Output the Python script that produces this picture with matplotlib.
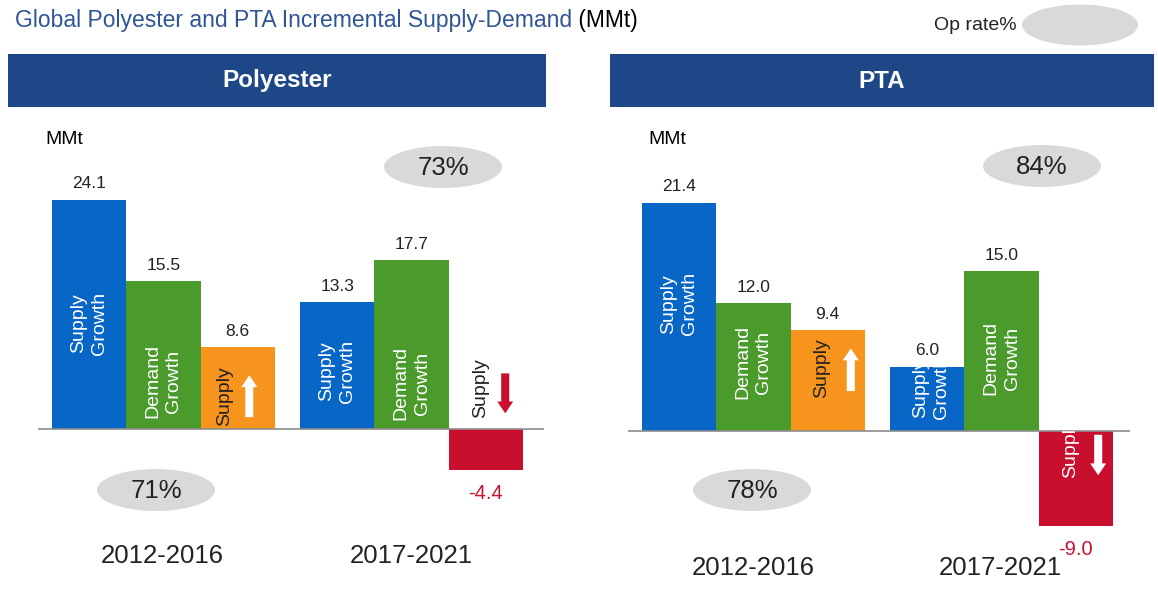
import matplotlib
matplotlib.use("Agg")
import matplotlib.pyplot as plt
from matplotlib.patches import Ellipse, Rectangle, FancyArrowPatch, ArrowStyle

plt.rcParams['font.family'] = ['Liberation Sans', 'DejaVu Sans']

# ---------------- data ----------------
title = "Global Polyester and PTA Incremental Supply-Demand"
title_unit = " (MMt)"
unit_label = "MMt"
legend_label = "Op rate%"
panels = ["Polyester", "PTA"]
periods = ["2012-2016", "2017-2021"]
poly_supply = [24.1, 13.3]
poly_demand = [15.5, 17.7]
poly_balance = [8.6, -4.4]
pta_supply = [21.4, 6.0]
pta_demand = [12.0, 15.0]
pta_balance = [9.4, -9.0]
poly_oprate = ["71%", "73%"]
pta_oprate = ["78%", "84%"]

# ---------------- style ----------------
W, H = 1158, 591
BLUE = '#0866C6'
GREEN = '#4B9A2C'
ORANGE = '#F7941D'
RED = '#C8102E'
HEAD = '#1E4788'
TBLUE = '#2F5597'
GREY = '#D9D9D9'
TXT = '#222222'

fig = plt.figure(figsize=(W / 100, H / 100), dpi=100)
bg = fig.add_axes([0, 0, 1, 1])
bg.set_xlim(0, W)
bg.set_ylim(H, 0)
bg.axis('off')

# title
t = bg.text(15, 27, title, color=TBLUE, fontsize=16.5, va='baseline', ha='left')
bg.annotate(title_unit, xy=(1, 27), xycoords=(t, 'data'), color='black',
            fontsize=16.5, va='baseline', ha='left')

# legend
bg.text(1017, 25, legend_label, ha='right', va='center', fontsize=14, color=TXT)
bg.add_patch(Ellipse((1080, 25), 116, 41, color=GREY, lw=0))

# headers
bg.add_patch(Rectangle((8, 54), 538, 53, color=HEAD, lw=0))
bg.add_patch(Rectangle((610, 54), 544, 53, color=HEAD, lw=0))
bg.text(277, 81, panels[0], color='white', fontsize=17.5, fontweight='bold',
        ha='center', va='center')
bg.text(882, 81, panels[1], color='white', fontsize=17.5, fontweight='bold',
        ha='center', va='center')

# unit labels
bg.text(45, 139, unit_label, va='center', ha='left', fontsize=14, color='black')
bg.text(648, 139, unit_label, va='center', ha='left', fontsize=14, color='black')

# op-rate ellipses
ell_pos = [((156, 490), poly_oprate[0]), ((443, 167), poly_oprate[1]),
           ((752, 490), pta_oprate[0]), ((1042, 166), pta_oprate[1])]
for (cx, cy), lab in ell_pos:
    bg.add_patch(Ellipse((cx, cy), 118, 42, color=GREY, lw=0))
    bg.text(cx, cy + 1, lab, ha='center', va='center', fontsize=18.5, color=TXT)

# period labels
for (px, py), lab in zip([(162, 556), (411, 556)], periods):
    bg.text(px, py, lab, ha='center', va='center', fontsize=18.5, color=TXT)
for (px, py), lab in zip([(753, 568), (1000, 568)], periods):
    bg.text(px, py, lab, ha='center', va='center', fontsize=18.5, color=TXT)


def px_axes(left, top, right, bottom):
    return fig.add_axes([left / W, 1 - bottom / H, (right - left) / W, (bottom - top) / H])


GAP = 3.34
x_s = [0, GAP]
x_d = [1, 1 + GAP]
x_b = [2, 2 + GAP]

ARROW = ArrowStyle('simple', head_length=8.5, head_width=11.5, tail_width=5.8)


def draw_panel(rect, base_px, scale, supply, demand, balance, inner, arrows):
    left, right = rect
    top, bottom = 150, 540
    ax = px_axes(left, top, right, bottom)
    ax.set_facecolor('none')
    ax.axis('off')
    width_units = (right - left) / 74.3
    x0 = -0.5 - 14 / 74.3
    ax.set_xlim(x0, x0 + width_units)
    ax.set_ylim(-(bottom - base_px) / scale, (base_px - top) / scale)

    bs = ax.bar(x_s, supply, width=1.0, color=BLUE, lw=0)
    bd = ax.bar(x_d, demand, width=1.0, color=GREEN, lw=0)
    bb = ax.bar(x_b, balance, width=1.0,
                color=[ORANGE if v >= 0 else RED for v in balance], lw=0)
    bars = [bs[0], bd[0], bb[0], bs[1], bd[1], bb[1]]
    ax.axhline(0, color='#8C8C8C', lw=1.2, zorder=3)

    for xs, vals in ((x_s, supply), (x_d, demand), (x_b, balance)):
        for x, v in zip(xs, vals):
            if v >= 0:
                ax.annotate(f"{v:.1f}", xy=(x, v), xytext=(0, 8),
                            textcoords='offset points', ha='center',
                            va='baseline', fontsize=12.5, color=TXT)
            else:
                ax.annotate(f"{v:.1f}", xy=(x, v), xytext=(0, -20.5),
                            textcoords='offset points', ha='center',
                            va='baseline', fontsize=14.5, color=RED,
                            annotation_clip=False)

    for i, (dx, y, txt, col, clip) in enumerate(inner):
        b = bars[i]
        xc = b.get_x() + b.get_width() / 2 + dx
        tt = ax.text(xc, y, txt, rotation=90, ha='center', va='center',
                     fontsize=14, color=col, multialignment='center',
                     linespacing=1.3, zorder=4)
        if clip:
            tt.set_clip_path(b)

    for i, dx, y0, y1, col in arrows:
        b = bars[i]
        xc = b.get_x() + b.get_width() / 2 + dx
        ax.add_patch(FancyArrowPatch((xc, y0), (xc, y1), arrowstyle=ARROW,
                                     mutation_scale=1, color=col, lw=0,
                                     shrinkA=0, shrinkB=0, zorder=4))
    return ax


poly_inner = [
    (0.0, 11.05, "Supply\nGrowth", 'white', True),
    (0.0, 5.0, "Demand\nGrowth", 'white', True),
    (-0.17, 3.4, "Supply", TXT, True),
    (0.0, 6.05, "Supply\nGrowth", 'white', True),
    (0.0, 4.75, "Demand\nGrowth", 'white', True),
    (-0.07, 4.25, "Supply", TXT, False),
]
poly_arrows = [(2, 0.155, 1.2, 5.6, 'white'), (5, 0.26, 5.8, 1.6, RED)]

pta_inner = [
    (0.0, 11.9, "Supply\nGrowth", 'white', True),
    (0.0, 6.4, "Demand\nGrowth", 'white', True),
    (-0.08, 5.9, "Supply", TXT, True),
    (0.05, 4.0, "Supply\nGrowth", 'white', True),
    (0.0, 6.8, "Demand\nGrowth", 'white', True),
    (-0.07, -1.65, "Supply", 'white', True),
]
pta_arrows = [(2, 0.31, 3.7, 7.7, 'white'), (5, 0.30, -0.4, -4.2, 'white')]

draw_panel((38, 544), 428.5, 9.5, poly_supply, poly_demand, poly_balance,
           poly_inner, poly_arrows)
draw_panel((628, 1130), 430.5, 10.65, pta_supply, pta_demand, pta_balance,
           pta_inner, pta_arrows)

fig.savefig("out.png", dpi=100)
